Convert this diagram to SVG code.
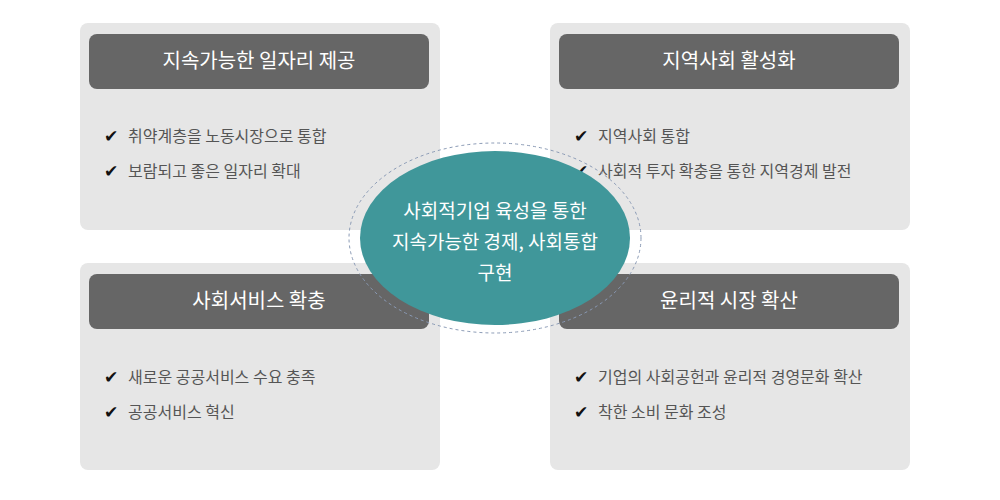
<svg xmlns="http://www.w3.org/2000/svg" width="1000" height="500" viewBox="0 0 1000 500">
<style>
.panel{fill:#e6e6e6}
.head{fill:#666666}
.ht{font-family:"Noto Sans CJK KR","Noto Sans",sans-serif;font-size:20px;fill:#fff;text-anchor:middle}
.it{font-family:"Noto Sans CJK KR","Noto Sans",sans-serif;font-size:16px;fill:#555}
.ck{font-family:"DejaVu Sans",sans-serif;font-size:17px;fill:#111;font-weight:bold}
.ct{font-family:"Noto Sans CJK KR","Noto Sans",sans-serif;font-size:19px;fill:#fff;text-anchor:middle}
</style>
<rect width="1000" height="500" fill="#fff"/>
<g id="tl"><rect class="panel" x="80" y="23" width="360" height="207" rx="8"/><rect class="head" x="89" y="34" width="340" height="55" rx="8"/><text class="ht" x="259" y="68">지속가능한 일자리 제공</text>
<text class="ck" x="104" y="142">✔</text><text class="it" x="128" y="142">취약계층을 노동시장으로 통합</text>
<text class="ck" x="104" y="177">✔</text><text class="it" x="128" y="177">보람되고 좋은 일자리 확대</text></g>
<g id="tr"><rect class="panel" x="550" y="23" width="360" height="207" rx="8"/><rect class="head" x="559" y="34" width="340" height="55" rx="8"/><text class="ht" x="729" y="68">지역사회 활성화</text>
<text class="ck" x="574" y="142">✔</text><text class="it" x="598" y="142">지역사회 통합</text>
<text class="ck" x="574" y="177">✔</text><text class="it" x="598" y="177">사회적 투자 확충을 통한 지역경제 발전</text></g>
<g id="bl"><rect class="panel" x="80" y="263" width="360" height="207" rx="8"/><rect class="head" x="89" y="274" width="340" height="55" rx="8"/><text class="ht" x="259" y="308">사회서비스 확충</text>
<text class="ck" x="104" y="383">✔</text><text class="it" x="128" y="383">새로운 공공서비스 수요 충족</text>
<text class="ck" x="104" y="418">✔</text><text class="it" x="128" y="418">공공서비스 혁신</text></g>
<g id="br"><rect class="panel" x="550" y="263" width="360" height="207" rx="8"/><rect class="head" x="559" y="274" width="340" height="55" rx="8"/><text class="ht" x="729" y="308">윤리적 시장 확산</text>
<text class="ck" x="574" y="383">✔</text><text class="it" x="598" y="383">기업의 사회공헌과 윤리적 경영문화 확산</text>
<text class="ck" x="574" y="418">✔</text><text class="it" x="598" y="418">착한 소비 문화 조성</text></g>
<g id="center"><ellipse cx="495" cy="238" rx="146" ry="95" fill="none" stroke="#8a9ab5" stroke-dasharray="3,3"/>
<ellipse cx="495" cy="238" rx="135" ry="87" fill="#40979a"/>
<text class="ct" x="495" y="218">사회적기업 육성을 통한</text>
<text class="ct" x="495" y="249">지속가능한 경제, 사회통합</text>
<text class="ct" x="495" y="280">구현</text></g>
</svg>
